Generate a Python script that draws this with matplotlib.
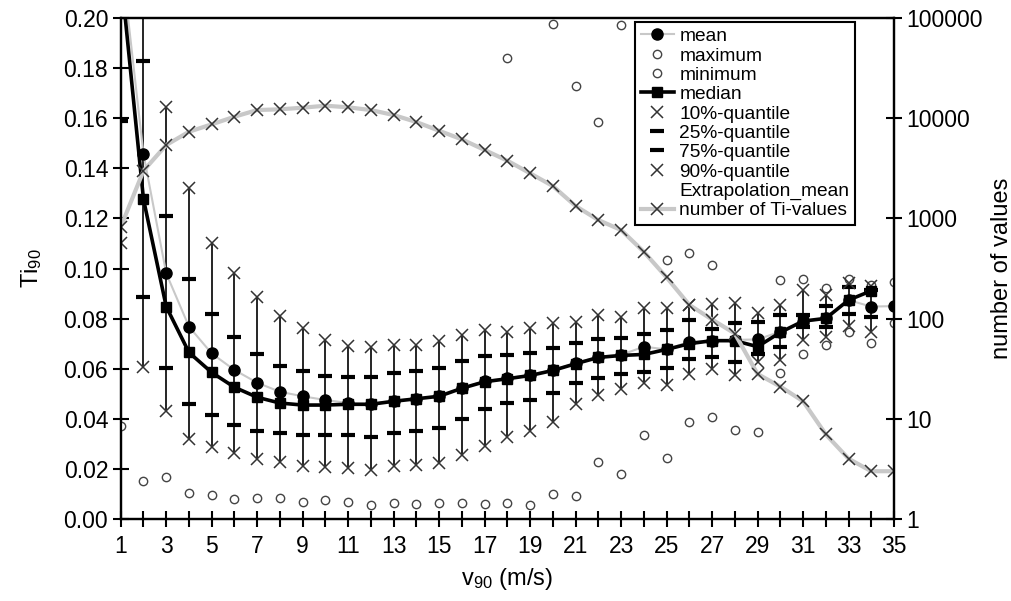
import numpy as np
import matplotlib
matplotlib.use('Agg')
import matplotlib.pyplot as plt
from matplotlib.lines import Line2D
from matplotlib.ticker import FixedLocator, FuncFormatter

plt.rcParams['font.family'] = ['Liberation Sans', 'DejaVu Sans']
plt.rcParams['mathtext.default'] = 'regular'

nan = np.nan
v90 = list(range(1, 36))

ti_mean = [0.226, 0.1457, 0.0981, 0.0768, 0.0661, 0.0595, 0.0544, 0.0508, 0.0490, 0.0475,
           0.0463, 0.0459, 0.0472, 0.0481, 0.0492, 0.0522, 0.0551, 0.0562, 0.0575, 0.0595,
           0.0622, 0.0648, 0.0655, 0.0688, 0.0677, 0.0708, 0.0712, 0.0715, 0.0717, 0.0748,
           0.0788, 0.0801, 0.0874, 0.0848, 0.0850]
ti_median = [0.218, 0.1277, 0.0848, 0.0665, 0.0585, 0.0526, 0.0486, 0.0463, 0.0455, 0.0455,
             0.0458, 0.0458, 0.0470, 0.0480, 0.0490, 0.0522, 0.0548, 0.0560, 0.0573, 0.0593,
             0.0620, 0.0645, 0.0653, 0.0657, 0.0677, 0.0700, 0.0712, 0.0712, 0.0688, 0.0745,
             0.0790, 0.0801, 0.0874, 0.0911, nan]
ti_max = [nan, nan, nan, nan, nan, nan, nan, nan, nan, nan,
          nan, nan, nan, nan, nan, nan, nan, 0.1842, nan, 0.1976,
          0.1729, 0.1586, 0.1972, 0.1806, 0.1034, 0.1063, 0.1014, 0.1207, 0.1267, 0.0954,
          0.0957, 0.0922, 0.0958, 0.0935, 0.0947]
ti_min = [0.0370, 0.0153, 0.0169, 0.0105, 0.0096, 0.0079, 0.0084, 0.0084, 0.0066, 0.0077,
          0.0069, 0.0055, 0.0064, 0.0061, 0.0064, 0.0063, 0.0061, 0.0065, 0.0056, 0.0100,
          0.0092, 0.0228, 0.0178, 0.0337, 0.0242, 0.0386, 0.0408, 0.0355, 0.0347, 0.0582,
          0.0660, 0.0695, 0.0748, 0.0702, 0.0781]
q10 = [0.1100, 0.0608, 0.0432, 0.0318, 0.0286, 0.0262, 0.0240, 0.0226, 0.0213, 0.0207,
       0.0202, 0.0195, 0.0212, 0.0216, 0.0225, 0.0255, 0.0291, 0.0326, 0.0353, 0.0388,
       0.0459, 0.0497, 0.0520, 0.0545, 0.0537, 0.0580, 0.0600, 0.0575, 0.0628, 0.0636,
       0.0716, 0.0725, 0.0772, 0.0746, nan]
q25 = [0.1590, 0.0887, 0.0602, 0.0458, 0.0414, 0.0374, 0.0353, 0.0345, 0.0335, 0.0335,
       0.0335, 0.0326, 0.0342, 0.0353, 0.0362, 0.0398, 0.0438, 0.0462, 0.0475, 0.0502,
       0.0544, 0.0564, 0.0578, 0.0588, 0.0602, 0.0640, 0.0648, 0.0628, 0.0660, 0.0688,
       0.0768, 0.0765, 0.0817, 0.0805, nan]
q75 = [0.2600, 0.1830, 0.1211, 0.0958, 0.0818, 0.0725, 0.0657, 0.0610, 0.0590, 0.0572,
       0.0566, 0.0568, 0.0582, 0.0589, 0.0604, 0.0632, 0.0651, 0.0655, 0.0664, 0.0684,
       0.0704, 0.0719, 0.0724, 0.0740, 0.0755, 0.0795, 0.0757, 0.0781, 0.0788, 0.0814,
       0.0814, 0.0850, 0.0927, 0.0915, nan]
q90 = [0.3200, 0.2500, 0.1643, 0.1320, 0.1103, 0.0983, 0.0887, 0.0810, 0.0763, 0.0716,
       0.0689, 0.0688, 0.0696, 0.0695, 0.0710, 0.0734, 0.0754, 0.0748, 0.0761, 0.0781,
       0.0788, 0.0814, 0.0808, 0.0841, 0.0841, 0.0854, 0.0858, 0.0861, 0.0824, 0.0856,
       0.0915, 0.0894, 0.0944, 0.0930, nan]
n_values = [820, 2990, 5400, 7330, 8690, 10350, 12080, 12270, 12740, 13340,
            12850, 12070, 10760, 9160, 7500, 6150, 4820, 3770, 2820, 2105,
            1330, 964, 766, 465, 258, 137, 98, 71, 28, 21,
            15, 7, 4, 3, 3]

x = np.array(v90, dtype=float)

fig = plt.figure(figsize=(10.12, 6.01), dpi=100)
ax = fig.add_axes([0.1193, 0.1364, 0.7641, 0.8336])
ax2 = ax.twinx()

# error bars 10%-90%
ax.vlines(x, q10, q90, color='black', lw=1.2, zorder=2)
h_mean, = ax.plot(x, ti_mean, color='#c8c8c8', lw=1.5, marker='o', ms=8,
                  mfc='black', mec='black', zorder=4, label='mean')
h_max, = ax.plot(x, ti_max, ls='none', marker='o', ms=6, mfc='white', mec='#444444',
                 mew=1.0, zorder=3, label='maximum')
h_min, = ax.plot(x, ti_min, ls='none', marker='o', ms=6, mfc='white', mec='#444444',
                 mew=1.0, zorder=3, label='minimum')
h_med, = ax.plot(x, ti_median, color='black', lw=2.6, marker='s', ms=7,
                 mfc='black', mec='black', zorder=5, label='median')
h_q10, = ax.plot(x, q10, ls='none', marker='x', ms=8, mec='#333333', mew=1.1,
                 zorder=3, label='10%-quantile')
h_q25, = ax.plot(x, q25, ls='none', marker='_', ms=10, mec='black', mew=3,
                 zorder=3, label='25%-quantile')
h_q75, = ax.plot(x, q75, ls='none', marker='_', ms=10, mec='black', mew=3,
                 zorder=3, label='75%-quantile')
h_q90, = ax.plot(x, q90, ls='none', marker='x', ms=8, mec='#333333', mew=1.1,
                 zorder=3, label='90%-quantile')
h_ext = Line2D([], [], color='white', lw=1.5, label='Extrapolation_mean')
h_n, = ax2.plot(x, n_values, color='#c8c8c8', lw=3, marker='x', ms=9,
                mec='#333333', mew=1.1, zorder=1, label='number of Ti-values')

ax.set_xlim(1, 35)
ax.set_ylim(0, 0.2)
ax2.set_yscale('log')
ax2.set_ylim(1, 100000)

ax.set_xticks(v90)
ax.set_xticklabels([str(v) if v % 2 == 1 else '' for v in v90])
ax.set_yticks(np.arange(0, 0.2001, 0.02))
ax.yaxis.set_major_formatter(FuncFormatter(lambda y, p: f'{y:.2f}'))
ax2.yaxis.set_major_locator(FixedLocator([1, 10, 100, 1000, 10000, 100000]))
ax2.yaxis.set_minor_locator(FixedLocator([]))
ax2.yaxis.set_major_formatter(FuncFormatter(lambda y, p: f'{int(round(y))}'))

for a in (ax, ax2):
    a.tick_params(direction='inout', length=11, width=1.5, labelsize=16.5, colors='black')
    for s in a.spines.values():
        s.set_linewidth(1.6)
ax.tick_params(axis='x', pad=6)

ax.set_xlabel(r'v$_{90}$ (m/s)', fontsize=17, labelpad=6)
ax.set_ylabel(r'Ti$_{90}$', fontsize=17, labelpad=14)
ax2.set_ylabel('number of values', fontsize=17, labelpad=6)

handles = [h_mean, h_max, h_min, h_med, h_q10, h_q25, h_q75, h_q90, h_ext, h_n]
leg = ax2.legend(handles=handles, loc='upper right', bbox_to_anchor=(0.9496, 0.992),
                 fontsize=13.8, frameon=True, fancybox=False, framealpha=1,
                 edgecolor='black', labelspacing=0.1, handlelength=1.7,
                 handletextpad=0.3, borderpad=0.3, borderaxespad=0)
leg.get_frame().set_linewidth(1.5)

fig.savefig('out.png', dpi=100)
